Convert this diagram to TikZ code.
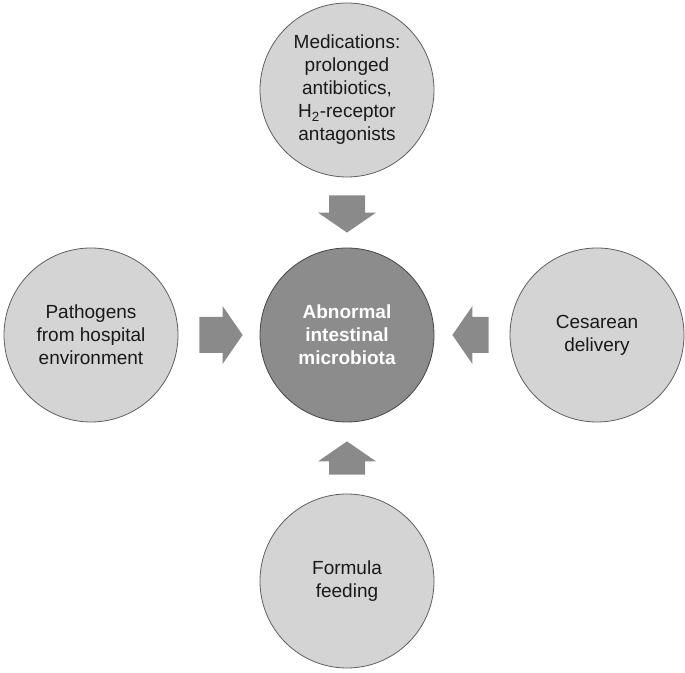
\documentclass[tikz,border=0pt]{standalone}
\usepackage{fontspec}
\setmainfont{Liberation Sans}
\usetikzlibrary{calc}
\definecolor{outerfill}{RGB}{212,212,212}
\definecolor{outerline}{RGB}{95,95,95}
\definecolor{midfill}{RGB}{140,140,140}
\definecolor{midline}{RGB}{70,70,70}
\definecolor{arrowfill}{RGB}{138,138,138}
\definecolor{txt}{RGB}{25,25,25}
\tikzset{
  outercircle/.style={circle, minimum size=174pt, inner sep=0pt, fill=outerfill, draw=outerline, line width=0.8pt, text=txt, align=center, font=\fontsize{19}{23}\selectfont},
  midcircle/.style={circle, minimum size=174pt, inner sep=0pt, fill=midfill, draw=midline, line width=0.8pt, text=white, align=center, font=\fontsize{19}{23}\selectfont\bfseries},
  blockfill/.style={fill=arrowfill, draw=none}
}
% #1 tail coordinate, #2 tip coordinate, #3 prefix for helper coordinates
\newcommand\blockarrow[3]{%
  \coordinate (#3hb) at ($(#2)!20pt!(#1)$);
  \fill[blockfill] ($(#1)!18pt!90:(#2)$) -- ($(#3hb)!18pt!90:(#2)$) -- ($(#3hb)!29pt!90:(#2)$) -- (#2)
     -- ($(#3hb)!29pt!-90:(#2)$) -- ($(#3hb)!18pt!-90:(#2)$) -- ($(#1)!18pt!-90:(#2)$) -- cycle;
}
\begin{document}
\begin{tikzpicture}[x=1pt,y=1pt]
\useasboundingbox (0,0) rectangle (685,672);
\node[midcircle] (mid) at (347,337) {Abnormal\\intestinal\\microbiota};
\node[outercircle] (top) at (347,582) {Medications:\\prolonged\\antibiotics,\\H\textsubscript{2}-receptor\\antagonists};
\node[outercircle] (left) at (91,337) {Pathogens\\from hospital\\environment};
\node[outercircle] (right) at (597,337) {Cesarean\\delivery};
\node[outercircle] (bottom) at (347,91) {Formula\\feeding};
% arrow end points
\coordinate (tT) at ($(top.south)!18pt!(mid.north)$);
\coordinate (pT) at ($(mid.north)!15pt!(top.south)$);
\coordinate (tL) at ($(left.east)!21pt!(mid.west)$);
\coordinate (pL) at ($(mid.west)!17pt!(left.east)$);
\coordinate (tR) at ($(right.west)!21pt!(mid.east)$);
\coordinate (pR) at ($(mid.east)!18pt!(right.west)$);
\coordinate (tB) at ($(bottom.north)!19pt!(mid.south)$);
\coordinate (pB) at ($(mid.south)!19pt!(bottom.north)$);
\blockarrow{tT}{pT}{aT}
\blockarrow{tL}{pL}{aL}
\blockarrow{tR}{pR}{aR}
\blockarrow{tB}{pB}{aB}
\end{tikzpicture}
\end{document}
